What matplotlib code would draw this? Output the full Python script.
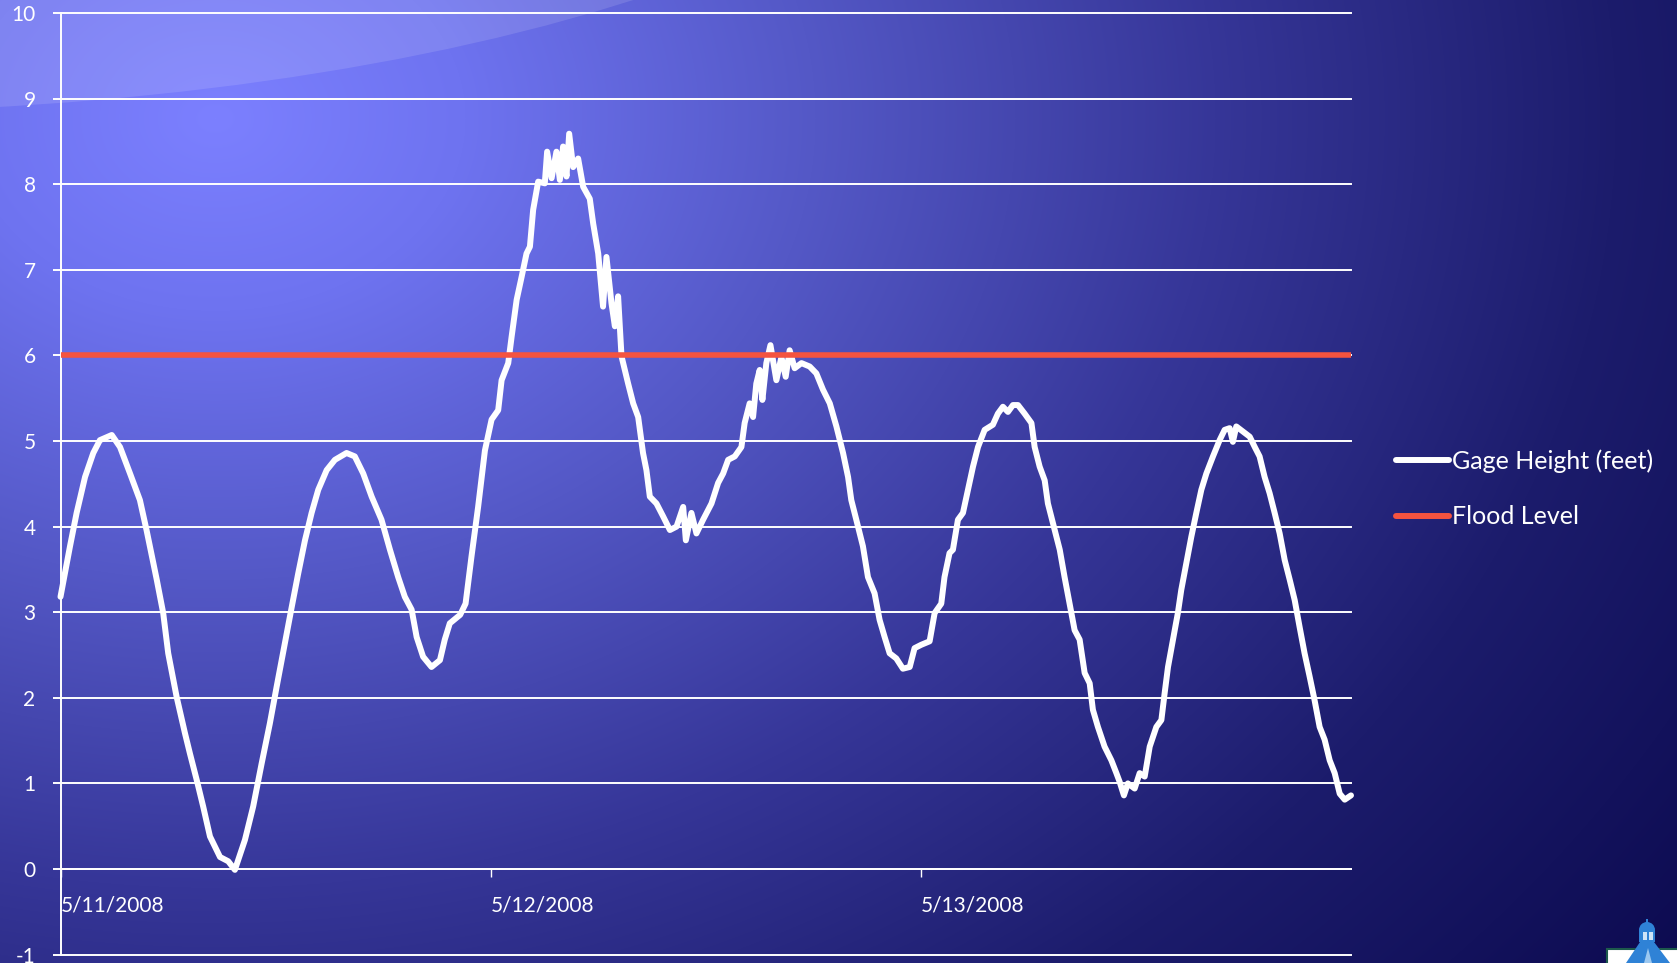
import numpy as np
import matplotlib
matplotlib.use("Agg")
import matplotlib.pyplot as plt
from matplotlib.patches import Ellipse, Polygon, Rectangle, Wedge
from matplotlib.lines import Line2D

# Gage height readings: hours after 5/11/2008 00:00 and height in feet
hours = [
    0.00, 0.53, 0.90, 1.37, 1.83, 2.20, 2.86, 3.32, 3.88, 4.43, 4.80, 5.37, 5.73,
    6.01, 6.48, 6.94, 7.22, 7.60, 7.96, 8.34, 8.90, 9.36, 9.73, 10.29, 10.75,
    11.22, 11.68, 12.06, 12.52, 12.90, 13.26, 13.64, 14.01, 14.38, 14.85, 15.31,
    15.96, 16.42, 16.89, 17.36, 17.91, 18.38, 18.84, 19.21, 19.59, 19.87, 20.23,
    20.70, 21.17, 21.44, 21.72, 22.30, 22.60, 22.93, 23.30, 23.68, 24.05, 24.42,
    24.61, 24.98, 25.17, 25.45, 25.73, 26.00, 26.19, 26.37, 26.65, 27.02, 27.15,
    27.40, 27.67, 27.86, 28.04, 28.23, 28.38, 28.60, 28.88, 29.16, 29.53, 29.72,
    30.00, 30.27, 30.46, 30.74, 30.93, 31.11, 31.30, 31.67, 31.95, 32.23, 32.50,
    32.69, 32.88, 33.25, 33.62, 34.00, 34.37, 34.74, 34.89, 35.20, 35.48, 35.85,
    36.32, 36.69, 36.97, 37.25, 37.62, 37.99, 38.17, 38.45, 38.64, 38.82, 39.01,
    39.16, 39.38, 39.61, 39.94, 40.22, 40.46, 40.68, 40.96, 41.34, 41.80, 42.17,
    42.54, 42.92, 43.29, 43.66, 43.94, 44.12, 44.40, 44.77, 45.05, 45.42, 45.70,
    45.98, 46.26, 46.63, 47.00, 47.38, 47.65, 48.03, 48.49, 48.77, 49.14, 49.32,
    49.60, 49.79, 50.07, 50.35, 50.63, 50.91, 51.19, 51.56, 52.02, 52.30, 52.58,
    52.86, 53.14, 53.42, 53.79, 54.17, 54.35, 54.63, 54.91, 55.09, 55.47, 55.75,
    56.02, 56.30, 56.58, 56.86, 57.14, 57.42, 57.60, 57.88, 58.25, 58.63, 58.91,
    59.09, 59.33, 59.55, 59.93, 60.21, 60.49, 60.77, 61.14, 61.42, 61.60, 61.79,
    62.07, 62.34, 62.53, 62.81, 63.09, 63.37, 63.65, 63.93, 64.30, 64.67, 64.95,
    65.23, 65.41, 65.60, 65.97, 66.35, 66.63, 66.90, 67.18, 67.46, 67.74, 68.02,
    68.30, 68.58, 68.86, 69.13, 69.41, 69.69, 69.97, 70.25, 70.53, 70.81, 71.09,
    71.37, 71.65, 72.00,
]
gage_ft = [
    3.18, 3.77, 4.16, 4.58, 4.86, 5.01, 5.07, 4.93, 4.62, 4.31, 3.96, 3.38, 2.99,
    2.52, 2.01, 1.59, 1.35, 1.04, 0.73, 0.38, 0.14, 0.09, -0.01, 0.34, 0.73,
    1.23, 1.70, 2.13, 2.64, 3.06, 3.45, 3.84, 4.16, 4.43, 4.66, 4.78,
    4.86, 4.82, 4.62, 4.35, 4.08, 3.73, 3.41, 3.18, 3.03, 2.71, 2.48,
    2.36, 2.44, 2.68, 2.87, 2.97, 3.10, 3.65, 4.23, 4.89, 5.25, 5.36,
    5.71, 5.91, 6.22, 6.65, 6.92, 7.19, 7.27, 7.70, 8.03, 8.01, 8.38,
    8.07, 8.38, 8.05, 8.44, 8.09, 8.59, 8.20, 8.30, 7.97, 7.83, 7.54,
    7.19, 6.57, 7.15, 6.61, 6.34, 6.69, 5.99, 5.67, 5.44, 5.28, 4.86,
    4.66, 4.35, 4.27, 4.12, 3.96, 4.00, 4.23, 3.84, 4.16, 3.92, 4.08,
    4.27, 4.51, 4.62, 4.78, 4.82, 4.93, 5.21, 5.44, 5.28, 5.67, 5.83,
    5.48, 5.91, 6.12, 5.71, 5.98, 5.75, 6.06, 5.85, 5.91, 5.87, 5.79,
    5.60, 5.44, 5.17, 4.86, 4.58, 4.31, 4.08, 3.77, 3.41, 3.22, 2.91,
    2.71, 2.52, 2.46, 2.34, 2.36, 2.58, 2.62, 2.66, 2.99, 3.10, 3.41,
    3.69, 3.73, 4.08, 4.16, 4.43, 4.70, 4.93, 5.13, 5.19, 5.32, 5.40,
    5.34, 5.42, 5.42, 5.32, 5.21, 4.93, 4.70, 4.54, 4.27, 3.96, 3.73,
    3.41, 3.10, 2.79, 2.68, 2.29, 2.17, 1.86, 1.66, 1.43, 1.27, 1.12,
    1.02, 0.86, 1.00, 0.94, 1.12, 1.08, 1.43, 1.66, 1.74, 2.05, 2.36,
    2.68, 2.99, 3.26, 3.57, 3.88, 4.16, 4.43, 4.62, 4.82, 5.01, 5.13,
    5.15, 4.99, 5.17, 5.11, 5.05, 4.93, 4.82, 4.58, 4.39, 4.16, 3.92,
    3.61, 3.38, 3.14, 2.83, 2.52, 2.25, 1.97, 1.66, 1.51, 1.27, 1.12,
    0.88, 0.81, 0.86,
]
flood_level_ft = 6.0

day_ticks = [0, 24, 48]
day_labels = ["5/11/2008", "5/12/2008", "5/13/2008"]
y_ticks = list(range(-1, 11))
series_names = ["Gage Height (feet)", "Flood Level"]

FONT = "Lato"
plt.rcParams["font.family"] = [FONT, "DejaVu Sans"]

W, H = 1677, 963
fig = plt.figure(figsize=(W / 100, H / 100), dpi=100)

# ---- slide background: radial blue glow from the upper left ----
bg = fig.add_axes([0, 0, 1, 1], zorder=0)
bg.set_xlim(0, W)
bg.set_ylim(H, 0)
bg.axis("off")
yy, xx = np.mgrid[0:H, 0:W]
dist = np.hypot(xx - 215.0, (yy - 118.0) * 1.3)
stop_d = [0, 250, 600, 1000, 1400, 1900]
stop_c = np.array([
    [124, 128, 255],
    [110, 115, 240],
    [84, 88, 198],
    [54, 54, 152],
    [28, 28, 108],
    [10, 8, 76],
]) / 255.0
img = np.dstack([np.interp(dist, stop_d, stop_c[:, k]) for k in range(3)])
bg.imshow(img, extent=(0, W, H, 0), aspect="auto", interpolation="bilinear")
bg.add_patch(Ellipse((-200, -300), 2428, 825, facecolor="white",
                     edgecolor="none", alpha=0.12))

# ---- small lighthouse emblem in the lower right corner ----
bg.add_patch(Rectangle((1607, 949), 80, 30, facecolor="white",
                       edgecolor="#1d5a4c", lw=1.5))
bg.add_patch(Polygon([[1626, 963], [1640, 942], [1654, 942], [1670, 963]],
                     closed=True, facecolor="#2f82d6", edgecolor="none"))
bg.add_patch(Rectangle((1639, 930), 16, 12, facecolor="#2f82d6", edgecolor="none"))
bg.add_patch(Rectangle((1643, 932), 4, 8, facecolor="#cfe4f7", edgecolor="none"))
bg.add_patch(Rectangle((1649, 932), 4, 8, facecolor="#cfe4f7", edgecolor="none"))
bg.add_patch(Wedge((1647, 930), 8, 180, 360, facecolor="#2f82d6", edgecolor="none"))
bg.add_patch(Rectangle((1646, 919), 2, 4, facecolor="#2f82d6", edgecolor="none"))
bg.add_patch(Polygon([[1644, 963], [1648, 948], [1652, 963]], closed=True,
                     facecolor="#9cc8f0", edgecolor="none"))

# ---- chart area ----
x0, x1 = 60.5, 1351.0
ytop, ybot = 13.0, 954.6
ax = fig.add_axes([x0 / W, (H - ybot) / H, (x1 - x0) / W, (ybot - ytop) / H], zorder=1)
ax.patch.set_alpha(0)
ax.set_xlim(0, 72)
ax.set_ylim(-1, 10)

for yv in y_ticks:
    ax.axhline(yv, color="white", lw=1.4, zorder=1, clip_on=False)

ax.spines["top"].set_visible(False)
ax.spines["right"].set_visible(False)
ax.spines["left"].set_color("white")
ax.spines["left"].set_linewidth(1.4)
ax.spines["bottom"].set_position(("data", 0))
ax.spines["bottom"].set_color("white")
ax.spines["bottom"].set_linewidth(1.4)

ax.set_yticks(y_ticks)
ax.set_yticklabels([str(v) for v in y_ticks])
ax.tick_params(axis="y", direction="out", length=6, width=1.4, color="white",
               labelcolor="white", labelsize=15, pad=12)
ax.set_xticks(day_ticks)
ax.set_xticklabels(day_labels, ha="left")
ax.tick_params(axis="x", direction="out", length=6, width=1.0, color="white",
               labelcolor="white", labelsize=15, pad=13)

gage_line, = ax.plot(hours, gage_ft, color="white", lw=4.3, zorder=3,
                     solid_joinstyle="round", solid_capstyle="round",
                     clip_on=False)
flood_line, = ax.plot([0, 72], [flood_level_ft, flood_level_ft],
                      color="#F4533F", lw=4.0, zorder=4,
                      solid_capstyle="butt")

handles = [
    Line2D([], [], color="white", lw=4.3, solid_capstyle="round"),
    Line2D([], [], color="#F4533F", lw=4.3, solid_capstyle="round"),
]
leg = fig.legend(handles, series_names, loc="center left",
                 bbox_to_anchor=(1396 / W, (H - 488.8) / H),
                 bbox_transform=fig.transFigure, frameon=False,
                 fontsize=18, handlelength=2.1, handletextpad=0.15,
                 borderpad=0, borderaxespad=0, labelspacing=1.3,
                 labelcolor="white")

fig.savefig("out.png", dpi=100)
